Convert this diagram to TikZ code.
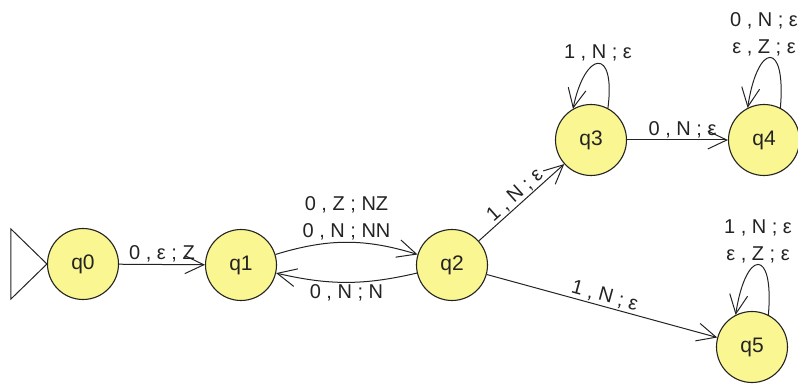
\documentclass[tikz,border=0pt]{standalone}
\usepackage{fontspec}
\setmainfont{Liberation Sans}
\usetikzlibrary{arrows.meta}
\definecolor{stfill}{RGB}{250,246,145}
\definecolor{ink}{RGB}{35,35,35}
\begin{document}
\begin{tikzpicture}[x=1pt,y=1pt,
  state/.style={circle,draw=ink,line width=1.1pt,fill=stfill,minimum size=71pt,inner sep=0pt,text=ink,font=\fontsize{21}{24}\selectfont},
  trans/.style={draw=ink,line width=1pt,-{Straight Barb[length=19pt,width=18pt,line width=1pt]}},
  lab/.style={text=ink,font=\fontsize{20}{27}\selectfont,inner sep=1.5pt,align=center}]
\useasboundingbox (0,0) rectangle (798,383);
\node[state] (q0) at (83,119) {q0};
\node[state] (q1) at (241,118) {q1};
\node[state] (q2) at (452,118) {q2};
\node[state] (q3) at (591,243) {q3};
\node[state] (q4) at (764,243) {q4};
\node[state] (q5) at (752,36) {q5};
\draw[draw=ink,line width=1pt] (q0.west) -- ++(-36,35) -- ++(0,-70) -- cycle;
\draw[trans] (q0) -- node[lab,above] (l01) {0 , ε ; Z} (q1);
\draw[trans] (q1) to[bend left=17] node[lab,above] (l12) {0 , Z ; NZ\\0 , N ; NN} (q2);
\draw[trans] (q2) to[bend left=13] node[lab,below] (l21) {0 , N ; N} (q1);
\draw[trans] (q2) -- node[lab,above,sloped,inner sep=1pt] (l23) {1 , N ; ε} (q3);
\draw[trans] (q3) -- node[lab,above,pos=0.55] (l34) {0 , N ; ε} (q4);
\draw[trans] (q2) -- node[lab,above,sloped] (l25) {1 , N ; ε} (q5);
\draw[trans] (q3.62) .. controls +(8,62) and +(12,58) .. node[lab,above] (l33) {1 , N ; ε} (q3.120);
\draw[trans] (q4.63) .. controls +(6,68) and +(10,66) .. node[lab,above,xshift=-6pt] (l44) {0 , N ; ε\\ε , Z ; ε} (q4.117);
\draw[trans] (q5.63) .. controls +(6,68) and +(10,66) .. node[lab,above] (l55) {1 , N ; ε\\ε , Z ; ε} (q5.117);
\end{tikzpicture}
\end{document}
